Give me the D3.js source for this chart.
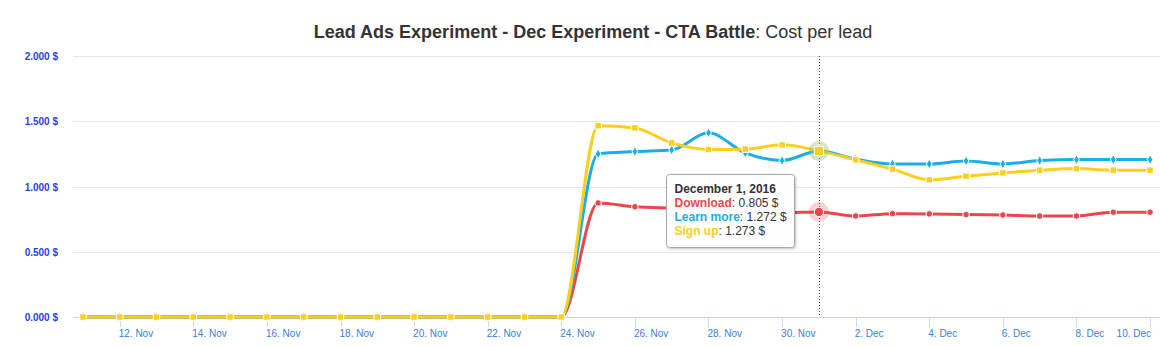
<!DOCTYPE html>
<html lang="en">
<head>
<meta charset="UTF-8">
<title>Lead Ads Experiment - Cost per lead</title>
<script src="https://d3js.org/d3.v7.min.js"></script>
<style>
  body { margin: 0; background: #fff; font-family: "Liberation Sans", Arial, sans-serif; }
  svg { display: block; }
</style>
</head>
<body>
<svg id="chart" width="1160" height="347"></svg>
<script>
// data (daily values, Nov 11 – Dec 10, 2016)
const days = ["2016-11-11","2016-11-12","2016-11-13","2016-11-14","2016-11-15","2016-11-16",
  "2016-11-17","2016-11-18","2016-11-19","2016-11-20","2016-11-21","2016-11-22","2016-11-23",
  "2016-11-24","2016-11-25","2016-11-26","2016-11-27","2016-11-28","2016-11-29","2016-11-30",
  "2016-12-01","2016-12-02","2016-12-03","2016-12-04","2016-12-05","2016-12-06","2016-12-07",
  "2016-12-08","2016-12-09","2016-12-10"];
const download  = [0,0,0,0,0,0,0,0,0,0,0,0,0,0, 0.874,0.845,0.835,0.825,0.815,0.800,
                   0.805,0.774,0.792,0.790,0.785,0.782,0.774,0.774,0.803,0.803];
const learnMore = [0,0,0,0,0,0,0,0,0,0,0,0,0,0, 1.250,1.268,1.280,1.411,1.257,1.199,
                   1.272,1.210,1.173,1.173,1.196,1.173,1.199,1.206,1.206,1.206];
const signUp    = [0,0,0,0,0,0,0,0,0,0,0,0,0,0, 1.465,1.449,1.334,1.283,1.286,1.319,
                   1.273,1.204,1.133,1.051,1.079,1.104,1.125,1.137,1.125,1.125];
const seriesNames = ["Download", "Learn more", "Sign up"];
const yTicks = [0, 0.5, 1, 1.5, 2];
const xTickDays = ["2016-11-12","2016-11-14","2016-11-16","2016-11-18","2016-11-20","2016-11-22",
  "2016-11-24","2016-11-26","2016-11-28","2016-11-30","2016-12-02","2016-12-04","2016-12-06",
  "2016-12-08","2016-12-10"];
const hoverDay = "2016-12-01";

const colors = ["#e8474d", "#19afe6", "#fccf1e"];
const symbols = [d3.symbolCircle, d3.symbolDiamond, d3.symbolSquare];
const markerSize = [34, 28, 42];

const parse = d3.utcParse("%Y-%m-%d");
const dates = days.map(parse);
const series = [download, learnMore, signUp].map((vals, i) => ({
  name: seriesNames[i], color: colors[i], symbol: symbols[i], size: markerSize[i],
  points: vals.map((v, j) => ({ date: dates[j], value: v }))
}));

const svg = d3.select("#chart");
const plotL = 73, plotR = 1160, plotT = 56, plotB = 317;
const DAY = 864e5;
const pad = 0.27 * DAY;

const x = d3.scaleUtc()
  .domain([+dates[0] - pad, +dates[dates.length - 1] + pad])
  .range([plotL, plotR]);
const y = d3.scaleLinear().domain([0, 2]).range([plotB, plotT]);

// title
svg.append("text")
  .attr("x", 593).attr("y", 38)
  .attr("text-anchor", "middle")
  .attr("font-size", 18).attr("fill", "#333")
  .call(t => {
    t.append("tspan").attr("font-weight", "bold").text("Lead Ads Experiment - Dec Experiment - CTA Battle");
    t.append("tspan").text(": Cost per lead");
  });

// grid + y labels
const yAxis = svg.append("g");
yAxis.selectAll("line").data(yTicks.filter(d => d > 0)).join("line")
  .attr("x1", plotL).attr("x2", plotR)
  .attr("y1", d => Math.round(y(d)) + 0.5).attr("y2", d => Math.round(y(d)) + 0.5)
  .attr("stroke", "#e6e6e6");
yAxis.selectAll("text").data(yTicks).join("text")
  .attr("x", 58).attr("y", d => y(d) + 4)
  .attr("text-anchor", "end")
  .attr("font-size", 10).attr("font-weight", "bold")
  .attr("fill", "#2b3de6")
  .text(d => d3.format(".3f")(d) + " $");

// x axis
const xAxis = svg.append("g");
xAxis.append("line")
  .attr("x1", plotL).attr("x2", plotR)
  .attr("y1", plotB + 0.5).attr("y2", plotB + 0.5)
  .attr("stroke", "#ccd6eb");
const xTicks = xTickDays.map(parse);
xAxis.selectAll("line.tick").data(xTicks).join("line")
  .attr("class", "tick")
  .attr("x1", d => Math.round(x(d)) + 0.5).attr("x2", d => Math.round(x(d)) + 0.5)
  .attr("y1", plotB).attr("y2", plotB + 10)
  .attr("stroke", "#ccd6eb");
const fmt = d3.utcFormat("%-d. %b");
xAxis.selectAll("text").data(xTicks).join("text")
  .attr("x", d => x(d) - 1).attr("y", 337)
  .attr("font-size", 10).attr("fill", "#3a80d6")
  .text(d => fmt(d))
  .each(function(d) {
    const w = this.getComputedTextLength();
    if (x(d) - 1 + w > plotR) d3.select(this).attr("text-anchor", "end").attr("x", x(d) + 1);
  });

// lines
const line = d3.line()
  .x(d => x(d.date)).y(d => y(d.value))
  .curve(d3.curveMonotoneX);

const gSeries = svg.append("g");
series.forEach(s => {
  const g = gSeries.append("g");
  g.append("path")
    .attr("d", line(s.points))
    .attr("fill", "none")
    .attr("stroke", s.color)
    .attr("stroke-width", 3)
    .attr("stroke-linejoin", "round");
  g.selectAll("path.m").data(s.points).join("path")
    .attr("class", "m")
    .attr("transform", d => `translate(${x(d.date)},${y(d.value)})`)
    .attr("d", d3.symbol(s.symbol, s.size)())
    .attr("fill", s.color)
    .attr("stroke", "#fff").attr("stroke-width", 1);
});

// crosshair
const hd = parse(hoverDay);
const hx = Math.round(x(hd)) + 0.5;
svg.append("line")
  .attr("x1", hx).attr("x2", hx).attr("y1", plotT).attr("y2", plotB)
  .attr("stroke", "#333").attr("stroke-dasharray", "1,2");

// hover halos + enlarged markers
const hi = dates.findIndex(d => +d === +hd);
const gHover = svg.append("g");
series.forEach(s => {
  const p = s.points[hi];
  gHover.append("circle")
    .attr("cx", x(p.date)).attr("cy", y(p.value)).attr("r", 10)
    .attr("fill", s.color).attr("fill-opacity", 0.25);
});
series.forEach(s => {
  const p = s.points[hi];
  gHover.append("path")
    .attr("transform", `translate(${x(p.date)},${y(p.value)})`)
    .attr("d", d3.symbol(s.symbol, s.size * 2)())
    .attr("fill", s.color)
    .attr("stroke", "#fff").attr("stroke-width", 1);
});

// tooltip
const defs = svg.append("defs");
const f = defs.append("filter").attr("id", "shadow").attr("x", "-10%").attr("y", "-10%")
  .attr("width", "130%").attr("height", "130%");
f.append("feDropShadow").attr("dx", 1).attr("dy", 1).attr("stdDeviation", 1.2)
  .attr("flood-color", "#000").attr("flood-opacity", 0.25);

const tip = svg.append("g").attr("transform", "translate(666.5,174.5)");
tip.append("rect")
  .attr("width", 128).attr("height", 73).attr("rx", 3)
  .attr("fill", "rgba(255,255,255,0.96)")
  .attr("stroke", "#a8a8a8").attr("stroke-width", 1)
  .attr("filter", "url(#shadow)");
tip.append("text")
  .attr("x", 8).attr("y", 18)
  .attr("font-size", 12).attr("font-weight", "bold").attr("fill", "#333")
  .text(d3.utcFormat("%B %-d, %Y")(hd));
series.forEach((s, i) => {
  const t = tip.append("text")
    .attr("x", 8).attr("y", 32 + i * 14)
    .attr("font-size", 12).attr("fill", "#333");
  t.append("tspan").attr("font-weight", "bold").attr("fill", s.color).text(s.name);
  t.append("tspan").text(": " + d3.format(".3f")(s.points[hi].value) + " $");
});
</script>
</body>
</html>
